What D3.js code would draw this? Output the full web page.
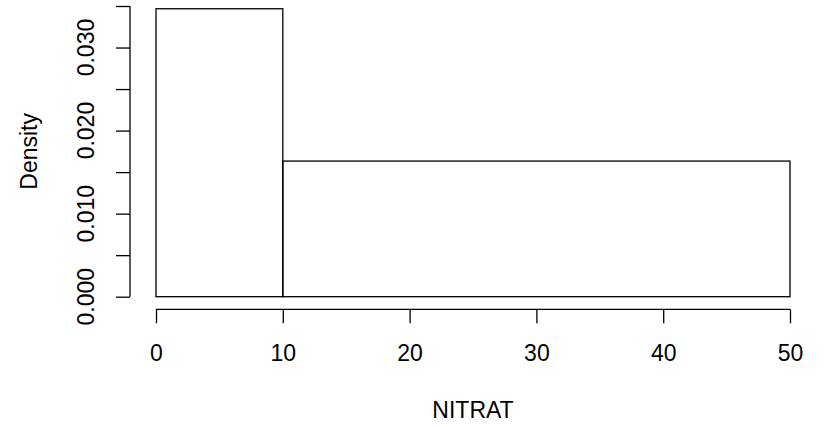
<!DOCTYPE html>
<html>
<head>
<meta charset="utf-8">
<script src="https://cdn.jsdelivr.net/npm/d3@7"></script>
<style>
  body { margin: 0; background: #fff; }
  svg { display: block; font-family: "Liberation Sans", Arial, sans-serif; }
  .axis line, .axis path { stroke: #000; stroke-width: 1.3; fill: none; }
  .bar { fill: none; stroke: #000; stroke-width: 1.3; }
</style>
</head>
<body>
<div id="chart"></div>
<script>
(function (d3) {
    'use strict';

    // Histogram bins (breaks) and densities.
    var binStarts = [0, 10];
    var binEnds = [10, 50];
    var densities = [0.03467, 0.01633];

    var xTicks = [0, 10, 20, 30, 40, 50];
    var yTicks = [0, 0.005, 0.010, 0.015, 0.020, 0.025, 0.030, 0.035];
    var yLabels = [0, 0.010, 0.020, 0.030];

    var width = 825;
    var height = 427;
    var fontSize = 23;

    var x = d3.scaleLinear().domain([0, 50]).range([156, 790]);
    var y = d3.scaleLinear().domain([0, 0.035]).range([296.7, 6]);

    var svg = d3.select('#chart').append('svg')
        .attr('width', width)
        .attr('height', height);

    var bins = binStarts.map(function (s, i) {
        return {x0: s, x1: binEnds[i], d: densities[i]};
    });

    // Bars
    svg.selectAll('.bar')
        .data(bins)
        .enter()
        .append('rect')
        .attr('class', 'bar')
        .attr('x', function (b) { return x(b.x0); })
        .attr('y', function (b) { return y(b.d); })
        .attr('width', function (b) { return x(b.x1) - x(b.x0); })
        .attr('height', function (b) { return y(0) - y(b.d); });

    // x-axis, offset below the bars like R does
    var xAxis = svg.append('g')
        .attr('class', 'axis')
        .attr('transform', 'translate(0,309.3)')
        .call(d3.axisBottom(x).tickValues(xTicks).tickSizeOuter(0).tickSize(14).tickFormat(d3.format('d')));
    xAxis.select('.domain').attr('d', 'M' + x(0) + ',0H' + x(50));
    xAxis.selectAll('text')
        .attr('y', 0)
        .attr('dy', 0)
        .attr('transform', 'translate(0,361)')
        .attr('fill', '#000')
        .style('font-size', fontSize + 'px');
    xAxis.selectAll('text').attr('transform', null).attr('y', 361 - 309.3);

    // y-axis
    var yAxis = svg.append('g')
        .attr('class', 'axis')
        .attr('transform', 'translate(130,0)')
        .call(d3.axisLeft(y).tickValues(yTicks).tickSizeOuter(0).tickSize(14).tickFormat(''));
    yAxis.select('.domain').attr('d', 'M0,' + y(0) + 'V' + y(0.035));

    svg.selectAll('.ylab')
        .data(yLabels)
        .enter()
        .append('text')
        .attr('class', 'ylab')
        .attr('transform', function (v) { return 'translate(94,' + y(v) + ') rotate(-90)'; })
        .attr('text-anchor', 'middle')
        .style('font-size', fontSize + 'px')
        .text(d3.format('.3f'));

    // Axis titles
    svg.append('text')
        .attr('x', x(25))
        .attr('y', 418)
        .attr('text-anchor', 'middle')
        .style('font-size', fontSize + 'px')
        .text('NITRAT');

    svg.append('text')
        .attr('transform', 'translate(37,' + y(0.035 / 2) + ') rotate(-90)')
        .attr('text-anchor', 'middle')
        .style('font-size', fontSize + 'px')
        .text('Density');

})(d3);
</script>
</body>
</html>
